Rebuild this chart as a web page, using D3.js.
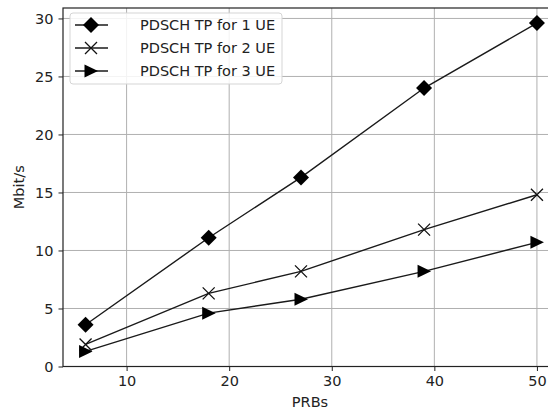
<!DOCTYPE html>
<html>
<head>
<meta charset="utf-8">
<script src="https://cdn.jsdelivr.net/npm/d3@7"></script>
<style>
  body { margin: 0; background: #fff; }
  svg { display: block; font-family: "DejaVu Sans", sans-serif; }
</style>
</head>
<body>
<div id="chart"></div>
<script>
// data
const prbs = [6, 18, 27, 39, 50];
const tp1 = [3.6, 11.1, 16.3, 24.0, 29.6];
const tp2 = [1.9, 6.3, 8.2, 11.8, 14.8];
const tp3 = [1.3, 4.6, 5.8, 8.2, 10.7];
const labels = ['PDSCH TP for 1 UE', 'PDSCH TP for 2 UE', 'PDSCH TP for 3 UE'];
const xTicks = [10, 20, 30, 40, 50];
const yTicks = [0, 5, 10, 15, 20, 25, 30];

const W = 548, H = 412;
const plot = {left: 63, top: 8, right: 559.5, bottom: 366.5};
const fs = 14.5;

const x = d3.scaleLinear().domain([3.8, 52.2]).range([plot.left, plot.right]);
const y = d3.scaleLinear().domain([0, 30.9]).range([plot.bottom, plot.top]);

const svg = d3.select('#chart').append('svg')
  .attr('width', W).attr('height', H);

// grid
svg.append('g').selectAll('line').data(xTicks).enter().append('line')
  .attr('x1', d => x(d)).attr('x2', d => x(d))
  .attr('y1', plot.top).attr('y2', plot.bottom)
  .attr('stroke', '#b0b0b0').attr('stroke-width', 1);
svg.append('g').selectAll('line').data(yTicks).enter().append('line')
  .attr('x1', plot.left).attr('x2', plot.right)
  .attr('y1', d => y(d)).attr('y2', d => y(d))
  .attr('stroke', '#b0b0b0').attr('stroke-width', 1);

// axes
const xAxis = svg.append('g')
  .attr('transform', `translate(0,${plot.bottom})`)
  .call(d3.axisBottom(x).tickValues(xTicks).tickSize(4.5).tickPadding(5));
const yAxis = svg.append('g')
  .attr('transform', `translate(${plot.left},0)`)
  .call(d3.axisLeft(y).tickValues(yTicks).tickSize(4.5).tickPadding(5));
[xAxis, yAxis].forEach(a => {
  a.select('.domain').remove();
  a.selectAll('text').attr('font-size', fs).attr('fill', '#222')
    .attr('font-family', '"DejaVu Sans", sans-serif');
  a.selectAll('line').attr('stroke', '#222');
});

// frame
svg.append('rect')
  .attr('x', plot.left).attr('y', plot.top)
  .attr('width', plot.right - plot.left).attr('height', plot.bottom - plot.top)
  .attr('fill', 'none').attr('stroke', '#222').attr('stroke-width', 1.2);

// axis labels
svg.append('text').attr('x', 310).attr('y', 407)
  .attr('text-anchor', 'middle').attr('font-size', fs).attr('fill', '#222').text('PRBs');
svg.append('text').attr('transform', `translate(24,${(plot.top + plot.bottom) / 2}) rotate(-90)`)
  .attr('text-anchor', 'middle').attr('font-size', fs).attr('fill', '#222').text('Mbit/s');

// markers
const mk = {
  diamond: g => g.append('path').attr('d', 'M0,-8L8,0L0,8L-8,0Z').attr('fill', '#000'),
  cross: g => g.append('path').attr('d', 'M-6,-6L6,6M-6,6L6,-6').attr('stroke', '#111').attr('stroke-width', 1.3).attr('fill', 'none'),
  tri: g => g.append('path').attr('d', 'M-6.5,-6.5L7,0L-6.5,6.5Z').attr('fill', '#000')
};

const series = [
  {values: tp1, marker: mk.diamond},
  {values: tp2, marker: mk.cross},
  {values: tp3, marker: mk.tri}
];

const line = d3.line().x(d => x(d[0])).y(d => y(d[1]));

series.forEach(s => {
  const pts = prbs.map((p, i) => [p, s.values[i]]);
  svg.append('path').datum(pts).attr('d', line)
    .attr('fill', 'none').attr('stroke', '#1a1a1a').attr('stroke-width', 1.4);
  pts.forEach(p => {
    const g = svg.append('g').attr('transform', `translate(${x(p[0])},${y(p[1])})`);
    s.marker(g);
  });
});

// legend
const lg = svg.append('g');
lg.append('rect').attr('x', 70).attr('y', 13).attr('width', 212).attr('height', 71)
  .attr('rx', 3).attr('fill', '#fff').attr('fill-opacity', 0.85)
  .attr('stroke', '#d5d5d5').attr('stroke-width', 1);
series.forEach((s, i) => {
  const cy = 25 + i * 23;
  lg.append('line').attr('x1', 75).attr('x2', 108).attr('y1', cy).attr('y2', cy)
    .attr('stroke', '#1a1a1a').attr('stroke-width', 1.4);
  s.marker(lg.append('g').attr('transform', `translate(91,${cy})`));
  lg.append('text').attr('x', 140).attr('y', cy + 5)
    .attr('font-size', fs).attr('fill', '#222').text(labels[i]);
});
</script>
</body>
</html>
